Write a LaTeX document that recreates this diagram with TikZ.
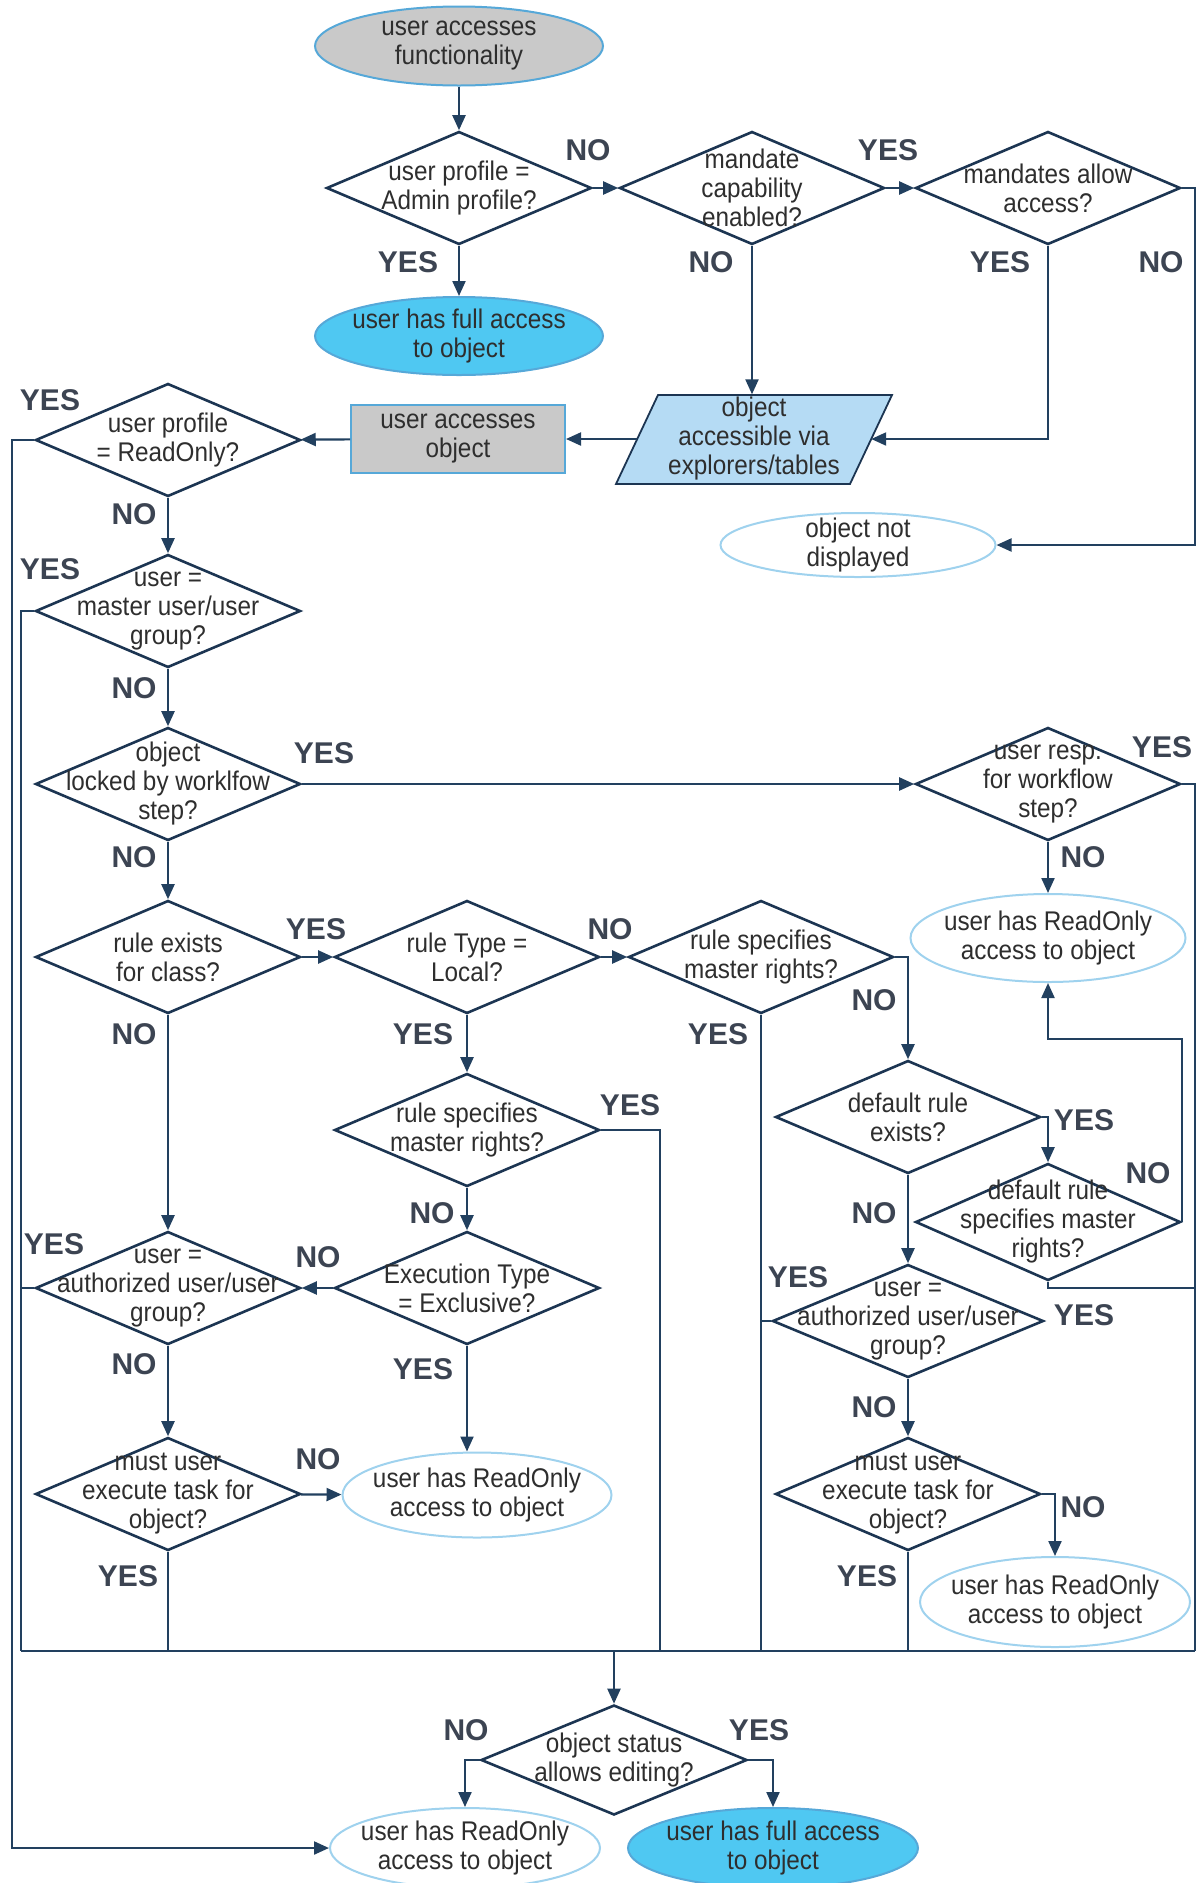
\documentclass[tikz,border=0pt]{standalone}
\usepackage{fontspec}
\setmainfont{Liberation Sans}
\newfontfamily\narrowfont[FakeStretch=0.9]{Liberation Sans}
\usetikzlibrary{shapes.geometric,arrows.meta}
\definecolor{navy}{HTML}{1C3552}
\definecolor{wire}{HTML}{22405F}
\definecolor{inkgray}{HTML}{2E2E2E}
\definecolor{labelgray}{HTML}{3C4452}
\definecolor{startgray}{HTML}{C9C9C9}
\definecolor{skyline}{HTML}{56A8D8}
\definecolor{fullcyan}{HTML}{4FC8F2}
\definecolor{iofill}{HTML}{B5DBF4}
\definecolor{paleline}{HTML}{9FD2EE}

\begin{document}
\begin{tikzpicture}[x=1pt, y=-1pt,
  txt/.style={font=\narrowfont\fontsize{27}{29}\selectfont, text=inkgray, align=center, inner sep=0pt},
  yn/.style={font=\bfseries\fontsize{30}{31}\selectfont, text=labelgray, inner sep=0pt},
  decision/.style={diamond, draw=navy, line width=2.6pt, minimum width=265, minimum height=113, inner sep=0pt, label={[txt]center:#1}},
  oval/.style={ellipse, line width=2pt, minimum width=275, minimum height=88, inner sep=0pt, label={[txt]center:#1}},
  endro/.style={oval=#1, draw=paleline, fill=white},
  endfull/.style={oval=#1, draw=skyline, fill=fullcyan, minimum width=290, minimum height=80},
  wire/.style={draw=wire, line width=2.2pt},
  flow/.style={wire, -{Triangle[length=15pt, width=13pt]}}]
  \useasboundingbox (0,0) rectangle (1203,1883);

  % top part
  \node (start) at (459,46) [oval={user accesses\\functionality}, draw=skyline, fill=startgray, minimum width=288, minimum height=79] {};
  \node (admin) at (459,188) [decision={user profile =\\Admin profile?}] {};
  \node (mandate) at (752,188) [decision={mandate\\capability\\enabled?}] {};
  \node (allow) at (1048,188) [decision={mandates allow\\access?}] {};
  \node (fullTop) at (459,336) [endfull={user has full access\\to object}, minimum width=288, minimum height=78] {};
  % parallelogram drawn by hand round the node
  \draw[navy, fill=iofill, line width=1.8pt] (616,484) -- (658,395) -- (892,395) -- (850,484) -- cycle;
  \node (access) at (754,439) [minimum width=234, minimum height=89, txt] {object\\accessible via\\explorers/tables};
  \node (objbox) at (458,439) [rectangle, draw=skyline, fill=startgray, line width=2pt, minimum width=214, minimum height=68, txt] {user accesses\\object};
  \node (notshown) at (858,545) [endro={object not\\displayed}, minimum height=64] {};

  % left column
  \node (ro) at (168,440) [decision={user profile\\= ReadOnly?}] {};
  \node (master) at (168,611) [decision={user =\\master user/user\\group?}] {};
  \node (locked) at (168,784) [decision={object\\locked by worklfow\\step?}] {};
  \node (resp) at (1048,784) [decision={user resp.\\for workflow\\step?}] {};
  \node (roTop) at (1048,938) [endro={user has ReadOnly\\access to object}] {};
  \node (ruleEx) at (168,957) [decision={rule exists\\for class?}] {};
  \node (ruleType) at (467,957) [decision={rule Type =\\Local?}] {};
  \node (ruleTop) at (761,957) [decision={rule specifies\\master rights?}] {};
  \node (ruleMid) at (467,1130) [decision={rule specifies\\master rights?}] {};
  \node (defEx) at (908,1117) [decision={default rule\\exists?}] {};
  \node (defSpec) at (1048,1222) [decision={default rule\\specifies master\\rights?}, minimum height=117] {};
  \node (authL) at (168,1288) [decision={user =\\authorized user/user\\group?}] {};
  \node (execT) at (467,1288) [decision={Execution Type\\= Exclusive?}] {};
  \node (authR) at (908,1321) [decision={user =\\authorized user/user\\group?}, minimum width=271] {};
  \node (mustL) at (168,1494) [decision={must user\\execute task for\\object?}] {};
  \node (roMid) at (477,1495) [endro={user has ReadOnly\\access to object}, minimum width=269, minimum height=85] {};
  \node (mustR) at (908,1494) [decision={must user\\execute task for\\object?}] {};
  \node (roLowR) at (1055,1602) [endro={user has ReadOnly\\access to object}, minimum width=270, minimum height=90] {};

  % bottom part
  \node (status) at (614,1760) [decision={object status\\allows editing?}, minimum width=266, minimum height=110] {};
  \node (roLow) at (465,1848) [endro={user has ReadOnly\\access to object}, minimum width=270, minimum height=80] {};
  \node (fullLow) at (773,1848) [endfull={user has full access\\to object}] {};

  \coordinate (rightA) at (1195,188);
  \coordinate (outerTop) at (12,440);
  \coordinate (innerTop) at (21,611);
  \coordinate (rightB) at (1195,784);
  \coordinate (midDrop) at (660,1130);
  \coordinate (loopC) at (1048,1039);
  \coordinate (rightC) at (1195,1288);
  \coordinate (busL) at (21,1651);
  \coordinate (busR) at (1195,1651);

  \draw[flow] (start) -- (admin);
  \draw[flow] (admin) -- (fullTop);
  \draw[flow] (admin) -- (mandate);
  \draw[flow] (mandate) -- (allow);
  \draw[flow] (mandate.south) -- (mandate.south |- access.north);
  \draw[flow] (allow.south) |- (access.east);
  \draw[flow] (allow.east) -- (rightA) |- (notshown.east);
  \draw[flow] (access) -- (objbox);
  \draw[flow] (objbox) -- (ro);
  \draw[flow] (ro.west) -- (outerTop) |- (roLow.west);
  \draw[flow] (ro) -- (master);
  \draw[wire] (master.west) -- (innerTop) -- (busL);
  \draw[flow] (master) -- (locked);
  \draw[flow] (locked) -- (resp);
  \draw[wire] (resp.east) -- (rightB) -- (busR);
  \draw[flow] (resp) -- (roTop);
  \draw[flow] (locked) -- (ruleEx);
  \draw[flow] (ruleEx) -- (ruleType);
  \draw[flow] (ruleType) -- (ruleTop);
  \draw[flow] (ruleEx) -- (authL);
  \draw[flow] (ruleType) -- (ruleMid);
  \draw[wire] (ruleTop.south) -- (ruleTop.south |- busL);
  \draw[flow] (ruleTop.east) -| (defEx.north);
  \draw[wire] (ruleMid.east) -- (midDrop) -- (midDrop |- busL);
  \draw[flow] (ruleMid) -- (execT);
  \draw[flow] (execT) -- (authL);
  \draw[flow] (execT.south) -- (execT.south |- roMid.north);
  \draw[wire] (authL.west) -- (authL.west -| busL);
  \draw[flow] (authL) -- (mustL);
  \draw[flow] (mustL) -- (roMid);
  \draw[wire] (mustL.south) -- (mustL.south |- busL);
  \draw[flow] (defEx.east) -| (defSpec.north);
  \draw[flow] (defEx) -- (authR);
  \draw[flow] (defSpec.east) |- (loopC) -| (roTop.south);
  \draw[wire] (defSpec.south) |- (rightC);
  \draw[wire] (authR.west) -- (authR.west -| ruleTop.south);
  \draw[flow] (authR) -- (mustR);
  \draw[flow] (mustR.east) -| (roLowR.north);
  \draw[wire] (mustR.south) -- (mustR.south |- busL);
  \draw[wire] (busL) -- (busR);
  \draw[flow] (busL -| status.north) -- (status);
  \draw[flow] (status.west) -| (roLow.north);
  \draw[flow] (status.east) -| (fullLow.north);

  % answers
  \node (adminNo) at (588,150) [yn] {NO};
  \node (mandateYes) at (888,150) [yn] {YES};
  \node (adminYes) at (408,262) [yn] {YES};
  \node (mandateNo) at (711,262) [yn] {NO};
  \node (allowYes) at (1000,262) [yn] {YES};
  \node (allowNo) at (1161,262) [yn] {NO};
  \node (roYes) at (50,400) [yn] {YES};
  \node (roNo) at (134,514) [yn] {NO};
  \node (masterYes) at (50,569) [yn] {YES};
  \node (masterNo) at (134,688) [yn] {NO};
  \node (lockedYes) at (324,753) [yn] {YES};
  \node (respYes) at (1162,747) [yn] {YES};
  \node (lockedNo) at (134,857) [yn] {NO};
  \node (respNo) at (1083,857) [yn] {NO};
  \node (ruleExYes) at (316,929) [yn] {YES};
  \node (ruleTypeNo) at (610,929) [yn] {NO};
  \node (ruleExNo) at (134,1034) [yn] {NO};
  \node (ruleTypeYes) at (423,1034) [yn] {YES};
  \node (ruleTopYes) at (718,1034) [yn] {YES};
  \node (ruleTopNo) at (874,1000) [yn] {NO};
  \node (ruleMidYes) at (630,1105) [yn] {YES};
  \node (defExYes) at (1084,1120) [yn] {YES};
  \node (defSpecNo) at (1148,1173) [yn] {NO};
  \node (ruleMidNo) at (432,1213) [yn] {NO};
  \node (defExNo) at (874,1213) [yn] {NO};
  \node (authLYes) at (54,1244) [yn] {YES};
  \node (execTNo) at (318,1257) [yn] {NO};
  \node (authRYes) at (798,1277) [yn] {YES};
  \node (defSpecYes) at (1084,1315) [yn] {YES};
  \node (authLNo) at (134,1364) [yn] {NO};
  \node (execTYes) at (423,1369) [yn] {YES};
  \node (authRNo) at (874,1407) [yn] {NO};
  \node (mustLNo) at (318,1459) [yn] {NO};
  \node (mustRNo) at (1083,1507) [yn] {NO};
  \node (mustLYes) at (128,1576) [yn] {YES};
  \node (mustRYes) at (867,1576) [yn] {YES};
  \node (statusNo) at (466,1730) [yn] {NO};
  \node (statusYes) at (759,1730) [yn] {YES};
\end{tikzpicture}
\end{document}
